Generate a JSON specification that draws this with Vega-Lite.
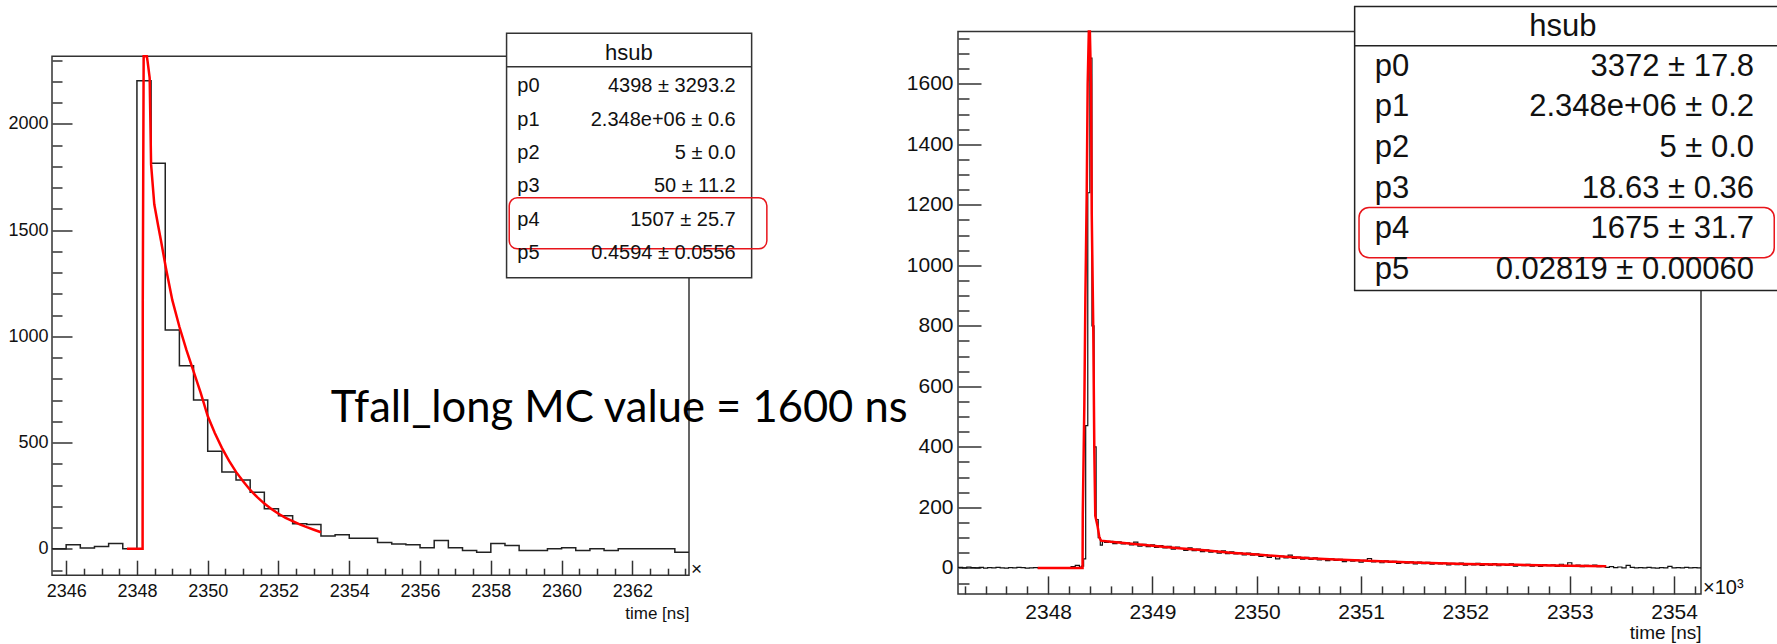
{
  "$schema": "https://vega.github.io/schema/vega-lite/v6.json",
  "background": "white",
  "padding": {"left": 7, "top": 4.5, "right": 0, "bottom": 0},
  "autosize": {"type": "pad"},
  "bounds": "flush",
  "spacing": 269,
  "config": {
    "view": {"stroke": "#333", "strokeWidth": 1.5},
    "axis": {"domain": false, "grid": false, "labelFont": "Liberation Sans", "labelColor": "#111", "tickColor": "#333", "tickWidth": 1.5, "labelFlush": false, "labelOverlap": false, "titleFont": "Liberation Sans", "titleFontWeight": "normal", "titleColor": "#111", "format": "d"}
  },
  "datasets": {
    "frameL": [{"x": 2345.6, "x2": 2363.6, "y": -124, "y2": 2318}],
    "histL": [
      {"x": 2345.6, "y": 0}, {"x": 2346.0, "y": 19}, {"x": 2346.4, "y": 4}, {"x": 2346.8, "y": 11}, {"x": 2347.2, "y": 25},
      {"x": 2347.6, "y": 0}, {"x": 2348.0, "y": 2203}, {"x": 2348.4, "y": 1814}, {"x": 2348.8, "y": 1030}, {"x": 2349.2, "y": 862},
      {"x": 2349.6, "y": 700}, {"x": 2350.0, "y": 459}, {"x": 2350.4, "y": 361}, {"x": 2350.8, "y": 324}, {"x": 2351.2, "y": 266},
      {"x": 2351.6, "y": 189}, {"x": 2352.0, "y": 156}, {"x": 2352.4, "y": 118}, {"x": 2352.8, "y": 115}, {"x": 2353.2, "y": 60},
      {"x": 2353.6, "y": 66}, {"x": 2354.0, "y": 50}, {"x": 2354.4, "y": 50}, {"x": 2354.8, "y": 30}, {"x": 2355.2, "y": 23},
      {"x": 2355.6, "y": 19}, {"x": 2356.0, "y": 5}, {"x": 2356.4, "y": 39}, {"x": 2356.8, "y": 5}, {"x": 2357.2, "y": -8},
      {"x": 2357.6, "y": -16}, {"x": 2358.0, "y": 25}, {"x": 2358.4, "y": 16}, {"x": 2358.8, "y": -8}, {"x": 2359.2, "y": -8},
      {"x": 2359.6, "y": 0}, {"x": 2360.0, "y": 5}, {"x": 2360.4, "y": -8}, {"x": 2360.8, "y": 0}, {"x": 2361.2, "y": -8},
      {"x": 2361.6, "y": 0}, {"x": 2362.0, "y": 0}, {"x": 2362.4, "y": 0}, {"x": 2362.8, "y": 0}, {"x": 2363.2, "y": -16},
      {"x": 2363.6, "y": -16}
    ],
    "fitL": [
      {"x": 2347.72, "y": 0}, {"x": 2348.16, "y": 0}, {"x": 2348.165, "y": 1166}, {"x": 2348.19, "y": 2318}, {"x": 2348.28, "y": 2318},
      {"x": 2348.30, "y": 2295}, {"x": 2348.36, "y": 2216}, {"x": 2348.40, "y": 1809}, {"x": 2348.49, "y": 1621}, {"x": 2348.60, "y": 1520},
      {"x": 2348.68, "y": 1450}, {"x": 2348.82, "y": 1320}, {"x": 2349.0, "y": 1170}, {"x": 2349.2, "y": 1045}, {"x": 2349.4, "y": 935},
      {"x": 2349.6, "y": 835}, {"x": 2349.8, "y": 735}, {"x": 2350.0, "y": 625}, {"x": 2350.2, "y": 545}, {"x": 2350.4, "y": 475},
      {"x": 2350.6, "y": 415}, {"x": 2350.8, "y": 362}, {"x": 2351.0, "y": 318}, {"x": 2351.2, "y": 277}, {"x": 2351.4, "y": 243},
      {"x": 2351.6, "y": 213}, {"x": 2351.8, "y": 188}, {"x": 2352.0, "y": 165}, {"x": 2352.2, "y": 146}, {"x": 2352.4, "y": 130},
      {"x": 2352.6, "y": 115}, {"x": 2352.8, "y": 102}, {"x": 2353.0, "y": 90}, {"x": 2353.2, "y": 78}
    ],
    "boxL": [{"x": 2358.445, "x2": 2365.37, "y": 1275.3, "y2": 2425.4}],
    "sepL": [{"x": 2358.445, "x2": 2365.37, "y": 2268.2}],
    "hiL": [{"x": 2358.52, "x2": 2365.8, "y": 1411.8, "y2": 1651.8}],
    "titleL": [{"x": 2361.9, "y": 2334, "text": "hsub"}],
    "statL": [
      {"x": 2358.75, "xv": 2364.92, "y": 2177, "label": "p0", "value": "4398 ± 3293.2"},
      {"x": 2358.75, "xv": 2364.92, "y": 2020, "label": "p1", "value": "2.348e+06  ± 0.6"},
      {"x": 2358.75, "xv": 2364.92, "y": 1863, "label": "p2", "value": "5 ± 0.0"},
      {"x": 2358.75, "xv": 2364.92, "y": 1706, "label": "p3", "value": "50 ± 11.2"},
      {"x": 2358.75, "xv": 2364.92, "y": 1549, "label": "p4", "value": "1507 ± 25.7"},
      {"x": 2358.75, "xv": 2364.92, "y": 1392, "label": "p5", "value": "0.4594 ± 0.0556"}
    ],
    "expL": [{"x": 2363.6, "y": -124, "text": "×"}],
    "note": [{"x": 2353.48, "y": 596, "text": "Tfall_long MC value = 1600 ns"}],
    "histR": [
      {"x": 2347.136, "y": 2}, {"x": 2347.18, "y": 0}, {"x": 2347.22, "y": 3}, {"x": 2347.26, "y": 1}, {"x": 2347.30, "y": 0},
      {"x": 2347.34, "y": 2}, {"x": 2347.38, "y": -1}, {"x": 2347.42, "y": 1}, {"x": 2347.46, "y": 0}, {"x": 2347.50, "y": 2},
      {"x": 2347.54, "y": 0}, {"x": 2347.58, "y": -1}, {"x": 2347.62, "y": 1}, {"x": 2347.66, "y": 0}, {"x": 2347.70, "y": 2},
      {"x": 2347.74, "y": 1}, {"x": 2347.78, "y": -1}, {"x": 2347.82, "y": 0}, {"x": 2347.86, "y": 1}, {"x": 2347.90, "y": 0},
      {"x": 2347.94, "y": -1}, {"x": 2347.98, "y": 0}, {"x": 2348.02, "y": 1}, {"x": 2348.06, "y": 0}, {"x": 2348.10, "y": 0},
      {"x": 2348.14, "y": 1}, {"x": 2348.18, "y": 0}, {"x": 2348.22, "y": 4}, {"x": 2348.26, "y": 8}, {"x": 2348.30, "y": 3},
      {"x": 2348.32, "y": 6}, {"x": 2348.34, "y": 30}, {"x": 2348.36, "y": 470}, {"x": 2348.38, "y": 1240}, {"x": 2348.40, "y": 1685},
      {"x": 2348.42, "y": 800}, {"x": 2348.44, "y": 400}, {"x": 2348.46, "y": 160}, {"x": 2348.48, "y": 100}, {"x": 2348.50, "y": 75},
      {"x": 2348.52, "y": 88},
      {"x": 2348.54, "y": 84}, {"x": 2348.58, "y": 88}, {"x": 2348.62, "y": 80}, {"x": 2348.66, "y": 86}, {"x": 2348.70, "y": 79},
      {"x": 2348.74, "y": 83}, {"x": 2348.78, "y": 76}, {"x": 2348.82, "y": 85}, {"x": 2348.86, "y": 72}, {"x": 2348.90, "y": 78},
      {"x": 2348.94, "y": 70}, {"x": 2348.98, "y": 76}, {"x": 2349.02, "y": 68}, {"x": 2349.06, "y": 74}, {"x": 2349.10, "y": 66},
      {"x": 2349.14, "y": 71}, {"x": 2349.18, "y": 62}, {"x": 2349.22, "y": 69}, {"x": 2349.26, "y": 64}, {"x": 2349.30, "y": 58},
      {"x": 2349.34, "y": 66}, {"x": 2349.38, "y": 57}, {"x": 2349.42, "y": 62}, {"x": 2349.46, "y": 54}, {"x": 2349.50, "y": 60},
      {"x": 2349.54, "y": 52}, {"x": 2349.58, "y": 57}, {"x": 2349.62, "y": 49}, {"x": 2349.66, "y": 56}, {"x": 2349.70, "y": 47},
      {"x": 2349.74, "y": 53}, {"x": 2349.78, "y": 46}, {"x": 2349.82, "y": 50}, {"x": 2349.86, "y": 43}, {"x": 2349.90, "y": 49},
      {"x": 2349.94, "y": 42}, {"x": 2349.98, "y": 46}, {"x": 2350.02, "y": 38}, {"x": 2350.06, "y": 44}, {"x": 2350.10, "y": 35},
      {"x": 2350.14, "y": 41}, {"x": 2350.18, "y": 30}, {"x": 2350.22, "y": 39}, {"x": 2350.26, "y": 33}, {"x": 2350.30, "y": 42},
      {"x": 2350.34, "y": 31}, {"x": 2350.38, "y": 36}, {"x": 2350.42, "y": 29}, {"x": 2350.46, "y": 35}, {"x": 2350.50, "y": 28},
      {"x": 2350.54, "y": 33}, {"x": 2350.58, "y": 26}, {"x": 2350.62, "y": 31}, {"x": 2350.66, "y": 24}, {"x": 2350.70, "y": 30},
      {"x": 2350.74, "y": 25}, {"x": 2350.78, "y": 28}, {"x": 2350.82, "y": 21}, {"x": 2350.86, "y": 27}, {"x": 2350.90, "y": 22},
      {"x": 2350.94, "y": 26}, {"x": 2350.98, "y": 19}, {"x": 2351.02, "y": 25}, {"x": 2351.06, "y": 31}, {"x": 2351.10, "y": 20},
      {"x": 2351.14, "y": 24}, {"x": 2351.18, "y": 17}, {"x": 2351.22, "y": 23}, {"x": 2351.26, "y": 18}, {"x": 2351.30, "y": 22},
      {"x": 2351.34, "y": 15}, {"x": 2351.38, "y": 21}, {"x": 2351.42, "y": 16}, {"x": 2351.46, "y": 20}, {"x": 2351.50, "y": 13},
      {"x": 2351.54, "y": 19}, {"x": 2351.58, "y": 14}, {"x": 2351.62, "y": 18}, {"x": 2351.66, "y": 12}, {"x": 2351.70, "y": 17},
      {"x": 2351.74, "y": 13}, {"x": 2351.78, "y": 16}, {"x": 2351.82, "y": 10}, {"x": 2351.86, "y": 15}, {"x": 2351.90, "y": 11},
      {"x": 2351.94, "y": 16}, {"x": 2351.98, "y": 9}, {"x": 2352.02, "y": 14}, {"x": 2352.06, "y": 10}, {"x": 2352.10, "y": 15},
      {"x": 2352.14, "y": 8}, {"x": 2352.18, "y": 13}, {"x": 2352.22, "y": 9}, {"x": 2352.26, "y": 14}, {"x": 2352.30, "y": 7},
      {"x": 2352.34, "y": 12}, {"x": 2352.38, "y": 8}, {"x": 2352.42, "y": 13}, {"x": 2352.46, "y": 6}, {"x": 2352.50, "y": 11},
      {"x": 2352.54, "y": 7}, {"x": 2352.58, "y": 12}, {"x": 2352.62, "y": 6}, {"x": 2352.66, "y": 10}, {"x": 2352.70, "y": 5},
      {"x": 2352.74, "y": 11}, {"x": 2352.78, "y": 7}, {"x": 2352.82, "y": 10}, {"x": 2352.86, "y": 5}, {"x": 2352.90, "y": 12},
      {"x": 2352.94, "y": 6}, {"x": 2352.98, "y": 17}, {"x": 2353.02, "y": 6}, {"x": 2353.06, "y": 9}, {"x": 2353.10, "y": 4},
      {"x": 2353.14, "y": 8}, {"x": 2353.18, "y": 5}, {"x": 2353.22, "y": 9}, {"x": 2353.26, "y": 4}, {"x": 2353.30, "y": 7},
      {"x": 2353.34, "y": 2}, {"x": 2353.38, "y": 4}, {"x": 2353.42, "y": 1}, {"x": 2353.46, "y": 3}, {"x": 2353.50, "y": 0},
      {"x": 2353.54, "y": 8}, {"x": 2353.58, "y": 2}, {"x": 2353.62, "y": 0}, {"x": 2353.66, "y": 1}, {"x": 2353.70, "y": 0},
      {"x": 2353.74, "y": 2}, {"x": 2353.78, "y": 0}, {"x": 2353.82, "y": -1}, {"x": 2353.86, "y": 1}, {"x": 2353.90, "y": 0},
      {"x": 2353.94, "y": 5}, {"x": 2353.98, "y": 0}, {"x": 2354.02, "y": 1}, {"x": 2354.06, "y": 0}, {"x": 2354.10, "y": 2},
      {"x": 2354.14, "y": 0}, {"x": 2354.18, "y": 1}, {"x": 2354.22, "y": 0}, {"x": 2354.258, "y": 0}
    ],
    "fitR": [
      {"x": 2347.90, "y": 0}, {"x": 2348.33, "y": 0}, {"x": 2348.332, "y": 177}, {"x": 2348.347, "y": 538}, {"x": 2348.357, "y": 892},
      {"x": 2348.370, "y": 1241}, {"x": 2348.379, "y": 1600}, {"x": 2348.39, "y": 1773}, {"x": 2348.40, "y": 1773}, {"x": 2348.411, "y": 1600},
      {"x": 2348.418, "y": 1170}, {"x": 2348.433, "y": 780}, {"x": 2348.443, "y": 379}, {"x": 2348.452, "y": 172}, {"x": 2348.475, "y": 136},
      {"x": 2348.491, "y": 101}, {"x": 2348.507, "y": 90}, {"x": 2348.6, "y": 86}, {"x": 2348.8, "y": 80}, {"x": 2349.0, "y": 73},
      {"x": 2349.25, "y": 65}, {"x": 2349.5, "y": 58}, {"x": 2349.75, "y": 50}, {"x": 2350.0, "y": 44}, {"x": 2350.25, "y": 38},
      {"x": 2350.5, "y": 32}, {"x": 2350.75, "y": 28}, {"x": 2351.0, "y": 24}, {"x": 2351.25, "y": 21}, {"x": 2351.5, "y": 18},
      {"x": 2351.75, "y": 15}, {"x": 2352.0, "y": 13}, {"x": 2352.5, "y": 10}, {"x": 2353.0, "y": 7}, {"x": 2353.35, "y": 5}
    ],
    "boxR": [{"x": 2350.938, "x2": 2355.2, "y": 916.7, "y2": 1856}],
    "sepR": [{"x": 2350.938, "x2": 2355.2, "y": 1725.6}],
    "hiR": [{"x": 2350.98, "x2": 2354.96, "y": 1025.5, "y2": 1191.4}],
    "titleR": [{"x": 2352.934, "y": 1786.8, "text": "hsub"}],
    "statR": [
      {"x": 2351.13, "xv": 2354.766, "y": 1657, "label": "p0", "value": "3372 ± 17.8"},
      {"x": 2351.13, "xv": 2354.766, "y": 1522.6, "label": "p1", "value": "2.348e+06 ± 0.2"},
      {"x": 2351.13, "xv": 2354.766, "y": 1388.2, "label": "p2", "value": "5 ± 0.0"},
      {"x": 2351.13, "xv": 2354.766, "y": 1253.8, "label": "p3", "value": "18.63 ± 0.36"},
      {"x": 2351.13, "xv": 2354.766, "y": 1119.4, "label": "p4", "value": "1675 ± 31.7"},
      {"x": 2351.13, "xv": 2354.766, "y": 985, "label": "p5", "value": "0.02819 ± 0.00060"}
    ],
    "expR": [{"x": 2354.258, "y": -86, "text": "×10³"}]
  },
  "hconcat": [
    {
      "width": 637,
      "height": 543.7,
      "view": {"stroke": null},
      "resolve": {"axis": {"x": "independent", "y": "independent"}},
      "encoding": {
        "x": {"field": "x", "type": "quantitative", "scale": {"domain": [2345.6, 2363.6], "nice": false, "zero": false}, "axis": null},
        "y": {"field": "y", "type": "quantitative", "scale": {"domain": [-124, 2434.2], "nice": false, "zero": false}, "axis": null}
      },
      "layer": [
        {
          "data": {"name": "frameL"},
          "mark": {"type": "rect", "filled": false, "stroke": "#333", "strokeWidth": 1.5},
          "encoding": {
            "x": {"field": "x", "type": "quantitative", "scale": {"domain": [2345.6, 2363.6], "nice": false, "zero": false},
              "axis": {"orient": "bottom", "values": [2346, 2348, 2350, 2352, 2354, 2356, 2358, 2360, 2362], "tickSize": -15, "labelFontSize": 18, "labelPadding": 22, "title": "time [ns]", "titleAnchor": "end", "titleAlign": "right", "titleFontSize": 17, "titlePadding": 5}},
            "x2": {"field": "x2"},
            "y": {"field": "y", "type": "quantitative", "scale": {"domain": [-124, 2434.2], "nice": false, "zero": false},
              "axis": {"orient": "left", "values": [0, 500, 1000, 1500, 2000], "tickSize": -20, "labelFontSize": 18, "labelPadding": 24, "title": null}},
            "y2": {"field": "y2"}
          }
        },
        {
          "data": {"name": "histL"},
          "mark": {"type": "line", "interpolate": "step-after", "color": "#222", "strokeWidth": 1.5},
          "encoding": {
            "x": {"field": "x", "type": "quantitative", "scale": {"domain": [2345.6, 2363.6], "nice": false, "zero": false},
              "axis": {"orient": "bottom", "values": [2346.5, 2347, 2347.5, 2348.5, 2349, 2349.5, 2350.5, 2351, 2351.5, 2352.5, 2353, 2353.5, 2354.5, 2355, 2355.5, 2356.5, 2357, 2357.5, 2358.5, 2359, 2359.5, 2360.5, 2361, 2361.5, 2362.5, 2363, 2363.5], "tickSize": -7, "labels": false, "title": null}},
            "y": {"field": "y", "type": "quantitative", "scale": {"domain": [-124, 2434.2], "nice": false, "zero": false},
              "axis": {"orient": "left", "values": [-100, 100, 200, 300, 400, 600, 700, 800, 900, 1100, 1200, 1300, 1400, 1600, 1700, 1800, 1900, 2100, 2200, 2300], "tickSize": -10, "labels": false, "title": null}}
          }
        },
        {
          "data": {"name": "fitL"},
          "mark": {"type": "line", "color": "#ff0000", "strokeWidth": 2.5}
        },
        {
          "data": {"name": "boxL"},
          "mark": {"type": "rect", "fill": "white", "stroke": "#333", "strokeWidth": 1.5},
          "encoding": {"x2": {"field": "x2"}, "y2": {"field": "y2"}}
        },
        {
          "data": {"name": "sepL"},
          "mark": {"type": "rule", "stroke": "#333", "strokeWidth": 1.5},
          "encoding": {"x2": {"field": "x2"}}
        },
        {
          "data": {"name": "hiL"},
          "mark": {"type": "rect", "filled": false, "stroke": "#e8151b", "strokeWidth": 1.5, "cornerRadius": 8},
          "encoding": {"x2": {"field": "x2"}, "y2": {"field": "y2"}}
        },
        {
          "data": {"name": "titleL"},
          "mark": {"type": "text", "align": "center", "baseline": "middle", "font": "Liberation Sans", "fontSize": 22, "color": "#111"},
          "encoding": {"text": {"field": "text"}}
        },
        {
          "data": {"name": "statL"},
          "mark": {"type": "text", "align": "left", "baseline": "middle", "font": "Liberation Sans", "fontSize": 20, "color": "#111"},
          "encoding": {"text": {"field": "label"}}
        },
        {
          "data": {"name": "statL"},
          "mark": {"type": "text", "align": "right", "baseline": "middle", "font": "Liberation Sans", "fontSize": 20, "color": "#111"},
          "encoding": {"x": {"field": "xv", "type": "quantitative", "axis": null}, "text": {"field": "value"}}
        },
        {
          "data": {"name": "expL"},
          "mark": {"type": "text", "align": "left", "baseline": "alphabetic", "dx": 2, "font": "Liberation Sans", "fontSize": 19, "color": "#111"},
          "encoding": {"text": {"field": "text"}}
        },
        {
          "data": {"name": "note"},
          "mark": {"type": "text", "align": "left", "baseline": "alphabetic", "font": "Lato", "fontSize": 43.5, "color": "#000"},
          "encoding": {"text": {"field": "text"}}
        }
      ]
    },
    {
      "width": 743,
      "height": 562.4,
      "resolve": {"axis": {"x": "independent", "y": "independent"}},
      "encoding": {
        "x": {"field": "x", "type": "quantitative", "scale": {"domain": [2347.136, 2354.258], "nice": false, "zero": false}, "axis": null},
        "y": {"field": "y", "type": "quantitative", "scale": {"domain": [-86, 1773], "nice": false, "zero": false}, "axis": null}
      },
      "layer": [
        {
          "data": {"name": "histR"},
          "mark": {"type": "line", "interpolate": "step-after", "color": "#111", "strokeWidth": 1.2},
          "encoding": {
            "x": {"field": "x", "type": "quantitative", "scale": {"domain": [2347.136, 2354.258], "nice": false, "zero": false},
              "axis": {"orient": "bottom", "values": [2348, 2349, 2350, 2351, 2352, 2353, 2354], "tickSize": -18, "labelFontSize": 21, "labelPadding": 25.5, "title": "time [ns]", "titleAnchor": "end", "titleAlign": "right", "titleFontSize": 19, "titlePadding": 1}},
            "y": {"field": "y", "type": "quantitative", "scale": {"domain": [-86, 1773], "nice": false, "zero": false},
              "axis": {"orient": "left", "values": [0, 200, 400, 600, 800, 1000, 1200, 1400, 1600], "tickSize": -23, "labelFontSize": 21, "labelPadding": 28, "title": null}}
          }
        },
        {
          "data": {"name": "fitR"},
          "mark": {"type": "line", "color": "#ff0000", "strokeWidth": 2.5},
          "encoding": {
            "x": {"field": "x", "type": "quantitative", "scale": {"domain": [2347.136, 2354.258], "nice": false, "zero": false},
              "axis": {"orient": "bottom", "values": [2347.2, 2347.4, 2347.6, 2347.8, 2348.2, 2348.4, 2348.6, 2348.8, 2349.2, 2349.4, 2349.6, 2349.8, 2350.2, 2350.4, 2350.6, 2350.8, 2351.2, 2351.4, 2351.6, 2351.8, 2352.2, 2352.4, 2352.6, 2352.8, 2353.2, 2353.4, 2353.6, 2353.8, 2354.2], "tickSize": -8, "labels": false, "title": null}},
            "y": {"field": "y", "type": "quantitative", "scale": {"domain": [-86, 1773], "nice": false, "zero": false},
              "axis": {"orient": "left", "values": [-50, 50, 100, 150, 250, 300, 350, 450, 500, 550, 650, 700, 750, 850, 900, 950, 1050, 1100, 1150, 1250, 1300, 1350, 1450, 1500, 1550, 1650, 1700, 1750], "tickSize": -11, "labels": false, "title": null}}
          }
        },
        {
          "data": {"name": "boxR"},
          "mark": {"type": "rect", "fill": "white", "stroke": "#222", "strokeWidth": 1.5},
          "encoding": {"x2": {"field": "x2"}, "y2": {"field": "y2"}}
        },
        {
          "data": {"name": "sepR"},
          "mark": {"type": "rule", "stroke": "#222", "strokeWidth": 1.5},
          "encoding": {"x2": {"field": "x2"}}
        },
        {
          "data": {"name": "hiR"},
          "mark": {"type": "rect", "filled": false, "stroke": "#e8151b", "strokeWidth": 1.5, "cornerRadius": 10},
          "encoding": {"x2": {"field": "x2"}, "y2": {"field": "y2"}}
        },
        {
          "data": {"name": "titleR"},
          "mark": {"type": "text", "align": "center", "baseline": "middle", "font": "Liberation Sans", "fontSize": 31, "color": "#111"},
          "encoding": {"text": {"field": "text"}}
        },
        {
          "data": {"name": "statR"},
          "mark": {"type": "text", "align": "left", "baseline": "middle", "font": "Liberation Sans", "fontSize": 31, "color": "#111"},
          "encoding": {"text": {"field": "label"}}
        },
        {
          "data": {"name": "statR"},
          "mark": {"type": "text", "align": "right", "baseline": "middle", "font": "Liberation Sans", "fontSize": 31, "color": "#111"},
          "encoding": {"x": {"field": "xv", "type": "quantitative", "axis": null}, "text": {"field": "value"}}
        },
        {
          "data": {"name": "expR"},
          "mark": {"type": "text", "align": "left", "baseline": "alphabetic", "dx": 2, "font": "Liberation Sans", "fontSize": 20, "color": "#111"},
          "encoding": {"text": {"field": "text"}}
        }
      ]
    }
  ]
}
